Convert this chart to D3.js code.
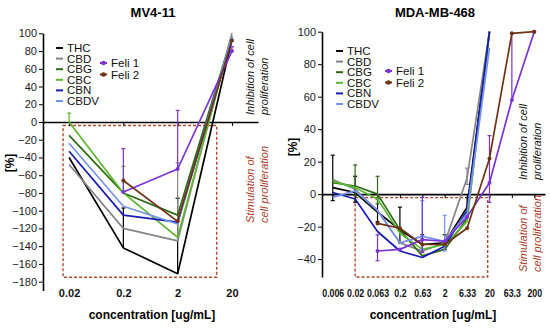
<!DOCTYPE html>
<html>
<head>
<meta charset="utf-8">
<script src="https://cdn.jsdelivr.net/npm/d3@7"></script>
<style>
  body { margin: 0; background: #fff; }
  svg { font-family: "Liberation Sans", Arial, sans-serif; }
</style>
</head>
<body>
<svg id="chart" width="550" height="328"></svg>
<script>
// series names + colours (same order in both panels)
var names = ["THC", "CBD", "CBG", "CBC", "CBN", "CBDV", "Feli 1", "Feli 2"];
var colors = ["#000000", "#858585", "#2f6a16", "#5cb82e", "#1a1ab4", "#7393ee", "#7b33d6", "#6e3213"];

// MV4-11
var mvConc = ["0.02", "0.2", "2", "20"];
var mvTicks = [-180, -160, -140, -120, -100, -80, -60, -40, -20, 0, 20, 40, 60, 80, 100];
var mvValues = [
  [-40, -142, -171, 93],   // THC
  [-48, -120, -134, 100],  // CBD
  [-15, -80, -105, 97],    // CBG
  [0, -80, -130, 97],      // CBC
  [-33, -105, -113, 95],   // CBN
  [-24, -95, -115, 97],    // CBDV
  [null, -79, -53, 80],    // Feli 1
  [null, -66, -112, 92]    // Feli 2
];
// error bars, upper side only
var mvErrUp = [
  [0, 45, 85, 0],
  [0, 0, 88, 0],
  [0, 0, 0, 0],
  [10, 30, 0, 0],
  [0, 0, 0, 0],
  [0, 0, 0, 0],
  [0, 49, 66, 5],
  [0, 0, 0, 0]
];
var mvErrDown = [
  [0, 0, 0, 0],
  [0, 0, 0, 0],
  [0, 0, 0, 0],
  [0, 0, 0, 0],
  [0, 0, 0, 0],
  [0, 0, 0, 0],
  [0, 0, 0, 0],
  [0, 0, 0, 0]
];

// MDA-MB-468
var mdaConc = ["0.006", "0.02", "0.063", "0.2", "0.63", "2", "6.33", "20", "63.3", "200"];
var mdaTicks = [-40, -20, 0, 20, 40, 60, 80, 100];
var mdaValues = [
  [4, 1, -11, -22, -31, -30, -8, 100, null, null],       // THC
  [9, 3, -10, -30, -35, -30, 10, 100, null, null],       // CBD
  [7, 5, 0, -22, -38, -34, -15, 100, null, null],        // CBG
  [8, 4, -3, -24, -34, -31, -17, 100, null, null],       // CBC
  [1, -3, -23, -35, -39, -32, -10, 100, null, null],     // CBN
  [-2, 2, -10, -30, -26, -29, -12, 90, null, null],      // CBDV
  [null, null, -35, -34, -28, -29, -14, 7, 58, 100],     // Feli 1
  [null, null, -18, -21, -31, -31, -21, 22, 99, 100]     // Feli 2
];
var mdaErrUp = [
  [20, 10, 8, 14, 6, 5, 6, 0, 0, 0],
  [0, 0, 0, 0, 0, 0, 6, 0, 0, 0],
  [0, 13, 11, 0, 0, 0, 0, 0, 0, 0],
  [0, 0, 0, 0, 0, 0, 0, 0, 0, 0],
  [0, 0, 0, 0, 0, 0, 0, 0, 0, 0],
  [0, 0, 0, 0, 22, 16, 0, 0, 0, 0],
  [0, 0, 10, 0, 26, 0, 0, 29, 41, 0],
  [0, 0, 0, 0, 0, 0, 0, 0, 0, 0]
];
var mdaErrDown = [
  [8, 6, 6, 8, 4, 4, 4, 0, 0, 0],
  [0, 0, 0, 0, 0, 0, 4, 0, 0, 0],
  [0, 6, 6, 0, 0, 0, 0, 0, 0, 0],
  [0, 0, 0, 0, 0, 0, 0, 0, 0, 0],
  [0, 0, 0, 0, 0, 0, 0, 0, 0, 0],
  [0, 0, 0, 0, 8, 6, 0, 0, 0, 0],
  [0, 0, 6, 0, 8, 0, 0, 12, 0, 0],
  [0, 0, 0, 0, 0, 0, 0, 0, 0, 0]
];

var svg = d3.select("#chart");

function panel(o) {
  var g = svg.append("g");

  var x = d3.scalePoint().domain(o.cats).range([o.x0, o.x1]).padding(0.48);
  var y = d3.scaleLinear().domain(o.yDomain).range([o.yBottom, o.yTop]);
  var step = x.step();

  // dashed "stimulation" box
  var bx0 = x(o.box[0]) + o.box[1] * step,
      bx1 = x(o.box[2]) + o.box[3] * step;
  g.append("rect")
    .attr("x", bx0).attr("y", y(0) + 3.5)
    .attr("width", bx1 - bx0).attr("height", y(o.box[4]) - y(0) - 3.5)
    .attr("fill", "none").attr("stroke", "#b5472b")
    .attr("stroke-width", 1.4).attr("stroke-dasharray", "3,2");

  // y axis
  var ya = g.append("g").attr("transform", "translate(" + o.x0 + ",0)")
    .call(d3.axisLeft(y).tickValues(o.ticks).tickSize(4).tickSizeOuter(0).tickPadding(2));
  ya.select(".domain").attr("stroke-width", 1.6);
  ya.selectAll("text").attr("font-size", 11).attr("fill", "#222");

  // zero line with ticks
  var za = g.append("g").attr("transform", "translate(0," + y(0) + ")")
    .call(d3.axisBottom(x).tickSize(4).tickSizeOuter(0).tickFormat(""));
  za.select(".domain").attr("stroke-width", 1.6);

  // category labels at the bottom
  var la = g.append("g").attr("transform", "translate(0,289)")
    .call(d3.axisBottom(x).tickSize(0).tickPadding(0));
  la.select(".domain").remove();
  la.selectAll("text").attr("font-size", 11).attr("font-weight", "bold").attr("fill", "#111")
    .attr("transform", "scale(" + o.labelSqueeze + ",1)");

  var line = d3.line()
    .defined(function (d) { return d != null; })
    .x(function (d, i) { return x(o.cats[i]); })
    .y(function (d) { return y(d); });

  o.values.forEach(function (vals, s) {
    var col = colors[s];
    // error bars
    vals.forEach(function (v, i) {
      var eu = o.errUp[s][i], ed = o.errDown[s][i];
      if (v == null || (!eu && !ed)) return;
      var cx = x(o.cats[i]);
      g.append("line").attr("x1", cx).attr("x2", cx)
        .attr("y1", y(v - ed)).attr("y2", y(v + eu))
        .attr("stroke", col).attr("stroke-width", 1.2);
      [eu ? v + eu : null, ed ? v - ed : null].forEach(function (t) {
        if (t == null) return;
        g.append("line").attr("x1", cx - 2).attr("x2", cx + 2)
          .attr("y1", y(t)).attr("y2", y(t))
          .attr("stroke", col).attr("stroke-width", 1.2);
      });
    });
    g.append("path").datum(vals)
      .attr("d", line)
      .attr("fill", "none").attr("stroke", col)
      .attr("stroke-width", 1.7).attr("stroke-linejoin", "round");
    if (s >= 6) {
      g.selectAll(null).data(vals.map(function (v, i) { return [v, i]; }).filter(function (d) { return d[0] != null; }))
        .enter().append("circle")
        .attr("cx", function (d) { return x(o.cats[d[1]]); })
        .attr("cy", function (d) { return y(d[0]); })
        .attr("r", 2).attr("fill", col);
    }
  });

  // title
  g.append("text").attr("x", o.titleX).attr("y", 17)
    .attr("text-anchor", "middle").attr("font-weight", "bold").attr("font-size", 13)
    .text(o.title);

  // axis titles
  g.append("text").attr("x", o.xLabelX).attr("y", 319)
    .attr("text-anchor", "middle").attr("font-weight", "bold").attr("font-size", 12)
    .text("concentration [ug/mL]");
  g.append("text")
    .attr("transform", "translate(" + o.yLabel[0] + "," + o.yLabel[1] + ") rotate(-90)")
    .attr("text-anchor", "middle").attr("font-weight", "bold").attr("font-size", 12)
    .text("[%]");

  // legend
  names.forEach(function (n, i) {
    var lx, ly;
    if (i < 6) { lx = o.leg[0]; ly = o.leg[1] + i * 10.6; }
    else { lx = o.leg2[0]; ly = o.leg2[1] + (i - 6) * 11.5; }
    g.append("line").attr("x1", lx).attr("x2", lx + 7).attr("y1", ly).attr("y2", ly)
      .attr("stroke", colors[i]).attr("stroke-width", 2);
    if (i >= 6) g.append("circle").attr("cx", lx + 3.5).attr("cy", ly).attr("r", 2.3).attr("fill", colors[i]);
    g.append("text").attr("x", lx + 11).attr("y", ly + 4)
      .attr("font-size", 11.5).attr("fill", "#111").text(n);
  });

  // side notes
  var notes = [
    { lines: ["Inhibition of cell", "proliferation"], y: o.inhY, col: "#111" },
    { lines: ["Stimulation of", "cell proliferation"], y: o.stimY, col: "#b03a26" }
  ];
  notes.forEach(function (nt) {
    nt.lines.forEach(function (t, k) {
      g.append("text")
        .attr("transform", "translate(" + (o.noteX + k * 14) + "," + nt.y + ") rotate(-90)")
        .attr("font-size", 11).attr("font-style", "italic").attr("fill", nt.col)
        .text(t);
    });
  });
}

panel({
  title: "MV4-11", titleX: 153, xLabelX: 152, yLabel: [14, 163],
  cats: mvConc, values: mvValues, errUp: mvErrUp, errDown: mvErrDown,
  x0: 43, x1: 258, yTop: 33.3, yBottom: 290.5, yDomain: [-190, 100], ticks: mvTicks,
  box: ["0.02", -0.11, "2", 0.72, -175], labelSqueeze: 1,
  leg: [56, 48], leg2: [100, 63],
  noteX: 254, inhY: 115, stimY: 223
});

panel({
  title: "MDA-MB-468", titleX: 435, xLabelX: 433, yLabel: [297, 147],
  cats: mdaConc, values: mdaValues, errUp: mdaErrUp, errDown: mdaErrDown,
  x0: 322, x1: 545, yTop: 31.7, yBottom: 277, yDomain: [-51, 100], ticks: mdaTicks,
  box: ["0.02", 0, "20", -0.08, -51], labelSqueeze: 0.8,
  leg: [336, 51], leg2: [385, 71],
  noteX: 527, inhY: 180, stimY: 272
});
</script>
</body>
</html>
